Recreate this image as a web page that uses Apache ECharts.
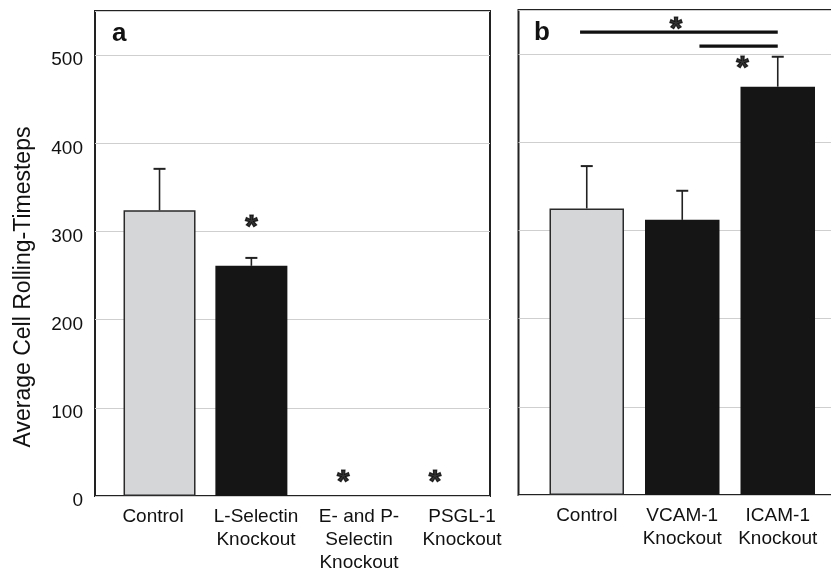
<!DOCTYPE html>
<html><head><meta charset="utf-8">
<script src="https://cdn.jsdelivr.net/npm/echarts@6/dist/echarts.min.js"></script>
<style>html,body{margin:0;padding:0;background:#fff}#c{width:831px;height:569px}</style>
</head><body><div id="c"></div>
<script>
// ---- data ----
const yMax = 550;
const yInterval = 100;
const yTitle = 'Average Cell Rolling-Timesteps';
const catsA = ['Control', 'L-Selectin\nKnockout', 'E- and P-\nSelectin\nKnockout', 'PSGL-1\nKnockout'];
const meansA = [324, 261, 0, 0];
const errA = [47, 9, 0, 0];
const starsA = [[1, 313], [2, 24], [3, 24]];
const catsB = ['Control', 'VCAM-1\nKnockout', 'ICAM-1\nKnockout'];
const meansB = [325, 312, 463];
const errB = [48, 33, 34];
// significance bars in panel b: [from (category pos), to (category pos), value]
const sigLinesB = [[-0.07, 2.0, 525], [1.18, 2.0, 509]];
const sigStarsB = [[0.935, 536], [1.63, 492]];
const panelLetters = ['a', 'b'];

// ---- chart ----
const FONT = 'Liberation Sans, Arial, Helvetica, sans-serif';
const chart = echarts.init(document.getElementById('c'), null, {renderer: 'canvas'});

const controlStyle = {color: '#d5d6d8', borderColor: '#2a2a2a', borderWidth: 1.5};
const koStyle = {color: '#151515', borderWidth: 0};
function styledBars(vals) {
  return vals.map((v, i) => ({value: v, itemStyle: i === 0 ? controlStyle : koStyle}));
}

function errItem(params, api) {
  const x = api.value(0), m = api.value(1), e = api.value(2);
  if (!e) return null;
  const p0 = api.coord([x, m]);
  const p1 = api.coord([x, m + e]);
  const hw = 6;
  return {type: 'group', children: [
    {type: 'line', shape: {x1: p0[0], y1: p0[1], x2: p1[0], y2: p1[1]}, style: {stroke: '#222', lineWidth: 1.6}},
    {type: 'line', shape: {x1: p1[0] - hw, y1: p1[1], x2: p1[0] + hw, y2: p1[1]}, style: {stroke: '#222', lineWidth: 2}}
  ]};
}
function sigItem(params, api) {
  const a = api.coord([api.value(0), api.value(2)]);
  const b = api.coord([api.value(1), api.value(2)]);
  return {type: 'line', shape: {x1: a[0], y1: a[1], x2: b[0], y2: b[1]}, style: {stroke: '#111', lineWidth: 3.2}};
}
const starLabel = {show: true, formatter: '*', position: 'inside', fontSize: 32, fontWeight: 'bold',
  color: '#000', textBorderColor: '#000', textBorderWidth: 1.2, fontFamily: FONT, offset: [0, 8]};
const hiddenY = {type: 'value', min: 0, max: yMax, interval: yInterval, show: false};
const hiddenAxisBits = {axisLine: {show: false}, axisTick: {show: false}, splitLine: {show: false}};
const xLabelStyle = {fontSize: 19, color: '#111', fontFamily: FONT, lineHeight: 23, margin: 9, interval: 0};

const option = {
  animation: false,
  grid: [
    {left: 95, right: 341, top: 11, bottom: 73, show: true, borderColor: '#222', borderWidth: 2, backgroundColor: 'transparent', outerBoundsMode: 'none'}, // 0 frame a
    {left: 113.6, right: 350, top: 11, bottom: 73, outerBoundsMode: 'none'},  // 1 bars a
    {left: 101.5, right: 317.5, top: 11, bottom: 73, outerBoundsMode: 'none'}, // 2 labels a
    {left: 518.5, right: -10, top: 10, bottom: 74, show: true, borderColor: '#222', borderWidth: 2, backgroundColor: 'transparent', outerBoundsMode: 'none'}, // 3 frame b
    {left: 539, right: 5.5, top: 10, bottom: 74, outerBoundsMode: 'none'} // 4 bars b
  ],
  xAxis: [
    {gridIndex: 0, type: 'category', data: catsA, show: false},
    {gridIndex: 1, type: 'category', data: catsA, show: false},
    {gridIndex: 2, type: 'category', data: catsA, ...hiddenAxisBits, axisLabel: xLabelStyle},
    {gridIndex: 3, type: 'category', data: catsB, show: false},
    {gridIndex: 4, type: 'category', data: catsB, ...hiddenAxisBits, axisLabel: xLabelStyle},
    {gridIndex: 4, type: 'value', min: -0.5, max: 2.5, show: false}
  ],
  yAxis: [
    {gridIndex: 0, type: 'value', min: 0, max: yMax, interval: yInterval,
      axisLine: {show: false}, axisTick: {show: false},
      splitLine: {show: true, lineStyle: {color: '#cfcfcf', width: 1}},
      axisLabel: {fontSize: 19, color: '#111', fontFamily: FONT, margin: 12, verticalAlign: 'top', lineHeight: 10,
        formatter: v => (v % 100 === 0 && v <= 500) ? String(v) : ''}},
    Object.assign({gridIndex: 1}, hiddenY),
    Object.assign({gridIndex: 2}, hiddenY),
    {gridIndex: 3, type: 'value', min: 0, max: yMax, interval: yInterval,
      axisLine: {show: false}, axisTick: {show: false}, axisLabel: {show: false},
      splitLine: {show: true, lineStyle: {color: '#cfcfcf', width: 1}}},
    Object.assign({gridIndex: 4}, hiddenY)
  ],
  series: [
    {type: 'bar', xAxisIndex: 1, yAxisIndex: 1, data: styledBars(meansA), barWidth: 72},
    {type: 'custom', xAxisIndex: 1, yAxisIndex: 1, renderItem: errItem,
      data: meansA.map((m, i) => [i, m, errA[i]]), z: 3},
    {type: 'scatter', xAxisIndex: 1, yAxisIndex: 1, data: starsA, symbolSize: 0, label: starLabel, z: 4},
    {type: 'bar', xAxisIndex: 4, yAxisIndex: 4, data: styledBars(meansB), barWidth: 74.5},
    {type: 'custom', xAxisIndex: 4, yAxisIndex: 4, renderItem: errItem,
      data: meansB.map((m, i) => [i, m, errB[i]]), z: 3},
    {type: 'custom', xAxisIndex: 5, yAxisIndex: 4, renderItem: sigItem, data: sigLinesB, z: 3},
    {type: 'scatter', xAxisIndex: 5, yAxisIndex: 4, data: sigStarsB, symbolSize: 0, label: starLabel, z: 4}
  ],
  graphic: [
    {type: 'text', x: 24, y: 287, rotation: Math.PI / 2,
      style: {text: yTitle, fontSize: 23, fontFamily: FONT, fill: '#111', align: 'center', verticalAlign: 'middle'}},
    {type: 'text', x: 112, y: 34, style: {text: panelLetters[0], fontSize: 26, fontWeight: 'bold', fontFamily: FONT, fill: '#111', verticalAlign: 'middle'}},
    {type: 'text', x: 534, y: 33, style: {text: panelLetters[1], fontSize: 26, fontWeight: 'bold', fontFamily: FONT, fill: '#111', verticalAlign: 'middle'}}
  ]
};
chart.setOption(option);
</script>
</body></html>
